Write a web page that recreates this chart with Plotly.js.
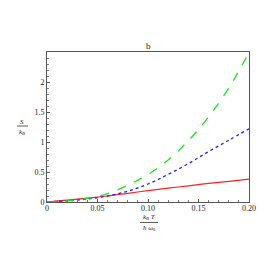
<!DOCTYPE html>
<html><head><meta charset="utf-8">
<script src="https://cdn.plot.ly/plotly-3.0.1.min.js"></script>
<style>html,body{margin:0;padding:0;background:#fff}</style>
</head><body><div id="chart" style="width:277px;height:277px"></div>
<script>
const xVals = [0, 0.02, 0.04, 0.06, 0.08, 0.10, 0.12, 0.14, 0.16, 0.18, 0.20];
const greenVals = [0, 0.02, 0.06, 0.14, 0.28, 0.46, 0.70, 1.02, 1.42, 1.90, 2.49];
const blueVals  = [0, 0.02, 0.05, 0.10, 0.18, 0.30, 0.46, 0.64, 0.84, 1.03, 1.22];
const redVals   = [0, 0.03, 0.065, 0.10, 0.145, 0.19, 0.23, 0.27, 0.31, 0.345, 0.38];
const xTicks = [0, 0.05, 0.10, 0.15, 0.20];
const xTickText = ['0', '0.05', '0.10', '0.15', '0.20'];
const yTicks = [0, 0.5, 1, 1.5, 2];
const yTickText = ['0', '0.5', '1', '1.5', '2'];

const L = 47, R = 249, T = 52, B = 202;
const px = p => (p - L) / (R - L);
const py = p => (B - p) / (B - T);
const font = {family: 'Liberation Serif, DejaVu Serif, serif', color: '#222'};

const traces = [
  {x: xVals, y: redVals, mode: 'lines', line: {color: '#ff2020', width: 1.2, shape: 'spline'}},
  {x: xVals, y: blueVals, mode: 'lines', line: {color: '#2020ff', width: 1.3, dash: 'dot', shape: 'spline'}},
  {x: xVals, y: greenVals, mode: 'lines', line: {color: '#20e020', width: 1.3, dash: 'dash', shape: 'spline'}}
];

const layout = {
  width: 277, height: 277,
  margin: {l: L, r: 277 - R, t: T, b: 277 - B},
  showlegend: false,
  paper_bgcolor: '#fff', plot_bgcolor: '#fff',
  title: {text: 'b', x: 0.535, xanchor: 'center', y: 1 - 46/277, yanchor: 'middle', font: Object.assign({size: 9}, font)},
  xaxis: {range: [0, 0.2], tickvals: xTicks, ticktext: xTickText, ticks: 'inside', ticklen: 3,
          tickcolor: '#555', showline: true, linecolor: '#555', linewidth: 1, mirror: true,
          showgrid: false, zeroline: false, tickfont: Object.assign({size: 8}, font), ticklabelstandoff: -2,
          minor: {dtick: 0.01, ticks: 'inside', ticklen: 2, tickcolor: '#777'}},
  yaxis: {range: [0, 2.5], tickvals: yTicks, ticktext: yTickText, ticks: 'inside', ticklen: 3,
          tickcolor: '#555', showline: true, linecolor: '#555', linewidth: 1, mirror: true,
          showgrid: false, zeroline: false, tickfont: Object.assign({size: 8}, font),
          minor: {dtick: 0.1, ticks: 'inside', ticklen: 2, tickcolor: '#777'}},
  annotations: [
    {xref: 'paper', yref: 'paper', x: px(149), y: py(216.5), text: '<i>k<sub>B</sub> T</i>', showarrow: false,
     xanchor: 'center', yanchor: 'middle', font: Object.assign({size: 7}, font)},
    {xref: 'paper', yref: 'paper', x: px(149), y: py(228), text: '<i>ħ</i> ω<sub>0</sub>', showarrow: false,
     xanchor: 'center', yanchor: 'middle', font: Object.assign({size: 7}, font)},
    {xref: 'paper', yref: 'paper', x: px(22.3), y: py(121.5), text: '<i>S</i>', showarrow: false,
     xanchor: 'center', yanchor: 'middle', font: Object.assign({size: 7}, font)},
    {xref: 'paper', yref: 'paper', x: px(22.3), y: py(131.5), text: '<i>k<sub>B</sub></i>', showarrow: false,
     xanchor: 'center', yanchor: 'middle', font: Object.assign({size: 7}, font)}
  ],
  shapes: [
    {type: 'line', xref: 'paper', yref: 'paper', x0: px(140), x1: px(158), y0: py(222.5), y1: py(222.5), line: {color: '#333', width: 0.8}},
    {type: 'line', xref: 'paper', yref: 'paper', x0: px(17), x1: px(28), y0: py(126), y1: py(126), line: {color: '#333', width: 0.8}}
  ]
};
Plotly.newPlot('chart', traces, layout, {staticPlot: true, displayModeBar: false});
</script></body></html>
